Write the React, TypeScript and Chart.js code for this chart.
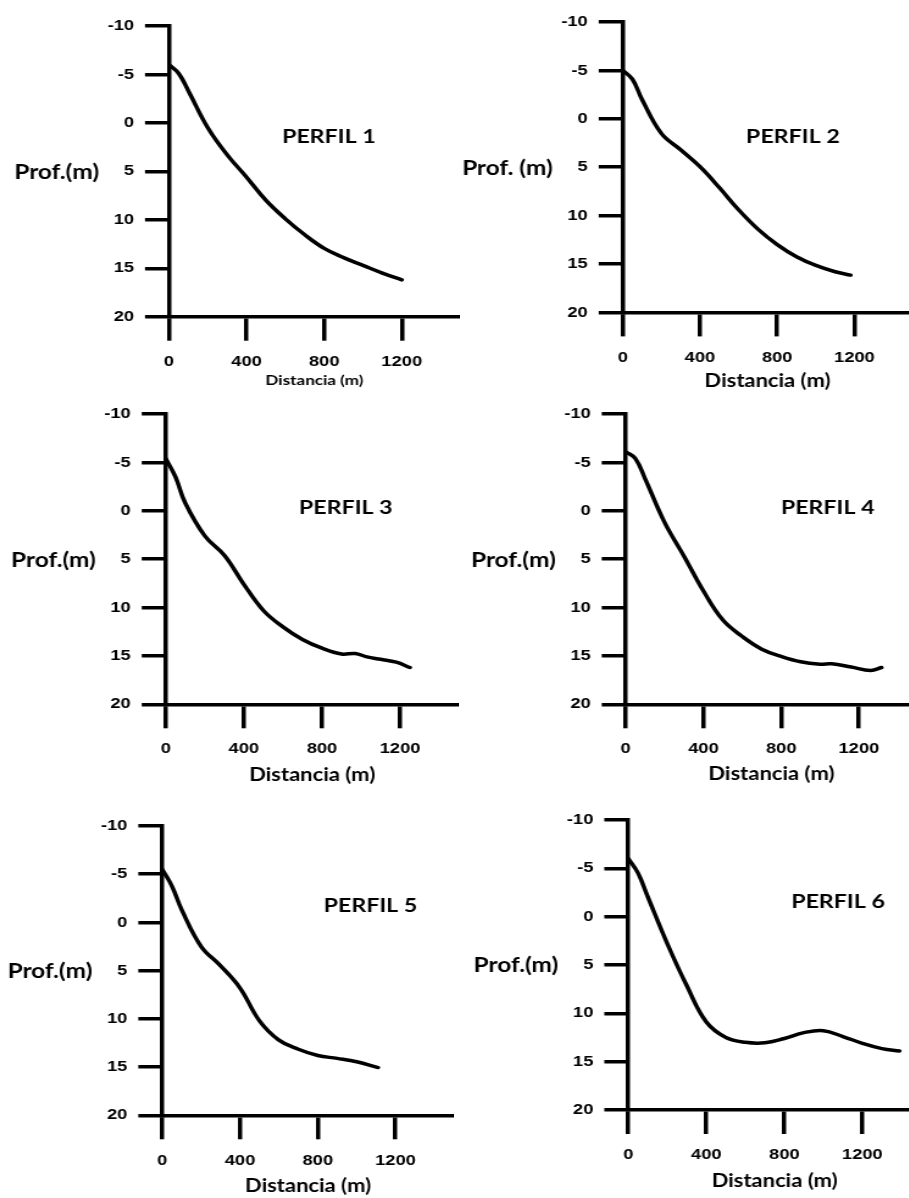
import { useEffect, useRef } from 'react';
import { Chart, registerables } from 'chart.js';

Chart.register(...registerables);

// Every panel canvas is drawn narrow and widened by this factor on screen.
const STRETCH = 1.22;

const distTicks = [0, 400, 800, 1200];
const depthTicks = [-10, -5, 0, 5, 10, 15, 20];
const distMax = 1500;

const perfil1Dist = [0, 50, 100, 200, 300, 400, 500, 600, 700, 800, 900, 1000, 1100, 1200];
const perfil1Depth = [-6.0, -5.1, -3.3, 0.5, 3.3, 5.6, 8.0, 9.9, 11.55, 12.95, 13.9, 14.7, 15.5, 16.2];

const perfil2Dist = [0, 50, 100, 200, 300, 400, 500, 600, 700, 800, 900, 1000, 1100, 1180];
const perfil2Depth = [-5.0, -4.1, -2.0, 1.5, 3.2, 4.95, 7.1, 9.4, 11.4, 13.0, 14.25, 15.15, 15.8, 16.15];

const perfil3Dist = [0, 50, 100, 200, 300, 400, 500, 600, 700, 800, 900, 970, 1030, 1100, 1180, 1250];
const perfil3Depth = [-5.4, -3.5, -0.8, 2.6, 4.6, 7.6, 10.3, 12.0, 13.3, 14.2, 14.8, 14.75, 15.1, 15.35, 15.65, 16.2];

const perfil4Dist = [0, 50, 100, 200, 300, 400, 500, 600, 700, 800, 900, 1000, 1060, 1160, 1260, 1316];
const perfil4Depth = [-6.1, -5.4, -3.3, 1.2, 4.7, 8.3, 11.3, 13.0, 14.3, 15.05, 15.6, 15.85, 15.82, 16.15, 16.5, 16.2];

const perfil5Dist = [0, 50, 100, 200, 300, 400, 500, 600, 700, 800, 900, 1000, 1110];
const perfil5Depth = [-5.5, -3.75, -1.3, 2.5, 4.5, 6.8, 10.2, 12.2, 13.15, 13.8, 14.1, 14.45, 15.05];

const perfil6Dist = [0, 50, 100, 200, 300, 400, 500, 600, 700, 800, 900, 1000, 1100, 1200, 1300, 1390];
const perfil6Depth = [-6.0, -4.5, -2.05, 2.8, 7.15, 10.9, 12.5, 13.0, 13.05, 12.6, 12.0, 11.8, 12.4, 13.1, 13.65, 13.9];

const panelNames = ['PERFIL 1', 'PERFIL 2', 'PERFIL 3', 'PERFIL 4', 'PERFIL 5', 'PERFIL 6'];
const depthLabels = ['Prof.(m)', 'Prof. (m)', 'Prof.(m)', 'Prof.(m)', 'Prof.(m)', 'Prof.(m)'];
const distLabel = 'Distancia (m)';

type Box = {
  left: number; // page x of the canvas
  x0: number; // page x of the depth axis
  top: number; // page y of the -10 tick
  bottom: number; // page y of the 20 tick
  px400: number; // on-screen width of 400 m
  tickMid: number; // page y of distance tick labels
  titleMid: number; // page y of the distance axis title
};

type Panel = {
  name: string;
  yLabel: string;
  dist: number[];
  depth: number[];
  nameAt: [number, number]; // in data units (m, m)
  xTitleSize: number;
  box: Box;
};

const panels: Panel[] = [
  { name: panelNames[0], yLabel: depthLabels[0], dist: perfil1Dist, depth: perfil1Depth, nameAt: [824, 1.4], xTitleSize: 14,
    box: { left: 0, x0: 169, top: 22, bottom: 316.7, px400: 77.7, tickMid: 362, titleMid: 381 } },
  { name: panelNames[1], yLabel: depthLabels[1], dist: perfil2Dist, depth: perfil2Depth, nameAt: [881, 1.9], xTitleSize: 18,
    box: { left: 450, x0: 622.7, top: 18.3, bottom: 312.7, px400: 77.1, tickMid: 358, titleMid: 381 } },
  { name: panelNames[2], yLabel: depthLabels[2], dist: perfil3Dist, depth: perfil3Depth, nameAt: [922, -0.3], xTitleSize: 18,
    box: { left: 0, x0: 165.7, top: 410, bottom: 704.3, px400: 78.1, tickMid: 749, titleMid: 775 } },
  { name: panelNames[3], yLabel: depthLabels[3], dist: perfil4Dist, depth: perfil4Depth, nameAt: [1039, -0.3], xTitleSize: 18,
    box: { left: 450, x0: 625.7, top: 410, bottom: 704.3, px400: 77.9, tickMid: 749, titleMid: 774 } },
  { name: panelNames[4], yLabel: depthLabels[4], dist: perfil5Dist, depth: perfil5Depth, nameAt: [1071, -1.7], xTitleSize: 18,
    box: { left: 0, x0: 162.3, top: 821.7, bottom: 1115, px400: 77.6, tickMid: 1161, titleMid: 1186 } },
  { name: panelNames[5], yLabel: depthLabels[5], dist: perfil6Dist, depth: perfil6Depth, nameAt: [1075, -1.5], xTitleSize: 18,
    box: { left: 450, x0: 628.3, top: 816, bottom: 1110, px400: 78, tickMid: 1155, titleMid: 1181 } },
];

const TICK_FONT = { family: "'Liberation Sans', Arial, sans-serif", weight: 'bold' as const, size: 15 };
const LABEL_FAMILY = "Lato, 'Open Sans', sans-serif";
const LINE_W = 3.5;
const X_TICK_LEN = 24;
const Y_TICK_LEN = 24 / STRETCH;

// Profile name and horizontal depth label
const panelTextPlugin = {
  id: 'panelText',
  afterDraw(chart: any, _args: any, opts: any) {
    const { ctx, chartArea, scales } = chart;
    ctx.save();
    ctx.fillStyle = '#000';
    ctx.textBaseline = 'middle';
    ctx.font = `bold 19px ${LABEL_FAMILY}`;
    ctx.textAlign = 'center';
    ctx.fillText(opts.name, scales.x.getPixelForValue(opts.nameAt[0]), scales.y.getPixelForValue(opts.nameAt[1]));
    ctx.font = `bold 20px ${LABEL_FAMILY}`;
    ctx.textAlign = 'right';
    ctx.fillText(opts.yLabel, chartArea.left - 70 / STRETCH, scales.y.getPixelForValue(5) + 1);
    ctx.restore();
  },
};

function geometry(b: Box, xTitleSize: number) {
  const padTop = 14;
  const top = b.top - padTop;
  const axisLeft = (b.x0 - b.left) / STRETCH;
  const xEnd = b.x0 + (distMax / 400) * b.px400;
  const w = Math.round((xEnd - b.left) / STRETCH);
  const plotBottom = b.bottom - top;
  const lh = xTitleSize * 1.2;
  const h = Math.round(b.titleMid + lh / 2 - top);
  const xScaleH = h - plotBottom;
  const tickPad = b.tickMid - b.bottom - X_TICK_LEN - (TICK_FONT.size * 1.2) / 2;
  return { padTop, top, axisLeft, w, h, xScaleH, tickPad };
}

function PerfilChart({ p }: { p: Panel }) {
  const ref = useRef<HTMLCanvasElement>(null);
  const g = geometry(p.box, p.xTitleSize);

  useEffect(() => {
    const chart = new Chart(ref.current as HTMLCanvasElement, {
      type: 'line',
      data: {
        datasets: [
          {
            data: p.dist.map((d, i) => ({ x: d, y: p.depth[i] })),
            borderColor: '#000',
            borderWidth: LINE_W,
            borderCapStyle: 'round',
            borderJoinStyle: 'round',
            pointRadius: 0,
            tension: 0.4,
            fill: false,
          },
        ],
      },
      options: {
        responsive: false,
        animation: false,
        events: [],
        layout: { padding: { top: g.padTop, left: 0, right: 0, bottom: 0 } },
        plugins: {
          legend: { display: false },
          tooltip: { enabled: false },
          // @ts-ignore
          panelText: { name: p.name, yLabel: p.yLabel, nameAt: p.nameAt },
        },
        scales: {
          x: {
            type: 'linear',
            min: 0,
            max: distMax,
            afterFit: (s: any) => { s.height = g.xScaleH; },
            afterBuildTicks: (s: any) => { s.ticks = distTicks.map((v) => ({ value: v })); },
            ticks: {
              callback: (v: any) => String(v),
              color: '#000',
              font: TICK_FONT,
              padding: g.tickPad,
              maxRotation: 0,
              autoSkip: false,
              includeBounds: false,
            },
            grid: { drawOnChartArea: false, drawTicks: true, tickLength: X_TICK_LEN, lineWidth: LINE_W, color: '#000' },
            border: { display: true, width: LINE_W, color: '#000' },
            title: {
              display: true,
              text: distLabel,
              color: '#000',
              font: { family: LABEL_FAMILY, weight: 'bold', size: p.xTitleSize },
              padding: 0,
            },
          },
          y: {
            type: 'linear',
            reverse: true,
            min: -10,
            max: 20,
            afterFit: (s: any) => { s.width = g.axisLeft; },
            afterBuildTicks: (s: any) => { s.ticks = depthTicks.map((v) => ({ value: v })); },
            ticks: {
              callback: (v: any) => String(v),
              color: '#000',
              font: TICK_FONT,
              padding: 9,
              autoSkip: false,
              includeBounds: false,
            },
            grid: { drawOnChartArea: false, drawTicks: true, tickLength: Y_TICK_LEN, lineWidth: LINE_W, color: '#000' },
            border: { display: true, width: LINE_W, color: '#000' },
          },
        },
      },
      plugins: [panelTextPlugin],
    } as any);
    return () => chart.destroy();
  }, []);

  return (
    <canvas
      ref={ref}
      width={g.w}
      height={g.h}
      style={{
        position: 'absolute',
        left: p.box.left,
        top: g.top,
        transform: `scaleX(${STRETCH})`,
        transformOrigin: '0 0',
      }}
    />
  );
}

export default function App() {
  return (
    <div
      style={{
        position: 'absolute',
        left: 0,
        top: 0,
        width: 909,
        height: 1198,
        overflow: 'hidden',
        background: '#fff',
      }}
    >
      {panels.map((p) => (
        <PerfilChart key={p.name} p={p} />
      ))}
    </div>
  );
}
